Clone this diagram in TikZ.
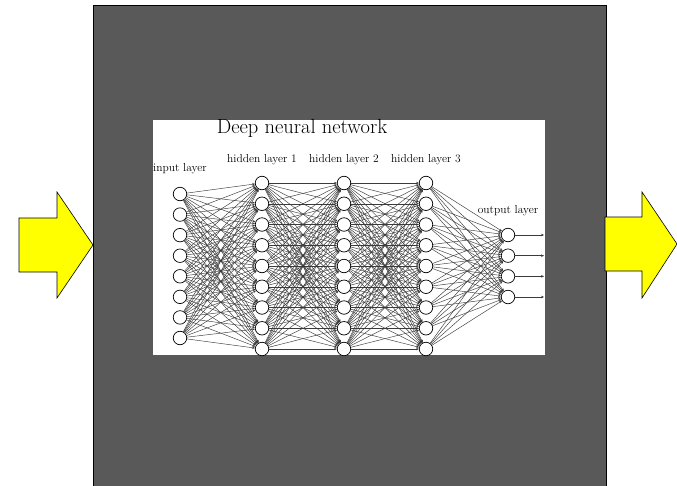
\documentclass[tikz,border=0pt]{standalone}
\usetikzlibrary{arrows.meta}
\definecolor{panel}{HTML}{595959}
\definecolor{arrowyellow}{HTML}{FFFF00}
\definecolor{linkgray}{HTML}{3A3A3A}
\begin{document}
\begin{tikzpicture}[x=1pt,y=-1pt,
  neuron/.style={circle,draw=black,fill=white,line width=0.7pt,minimum size=13.5pt,inner sep=0pt},
  conn/.style={draw=linkgray,line width=0.45pt,-{Stealth[length=2.8pt,width=2.4pt]}},
  outconn/.style={draw=linkgray,line width=0.55pt,-{Stealth[length=3pt,width=2.6pt]}},
  layerlabel/.style={inner sep=0pt,font=\fontsize{11.5}{13}\selectfont},
  bigarrow/.style={fill=arrowyellow,draw=black,line width=0.6pt,line join=miter}]
\useasboundingbox (0,0) rectangle (677,485);
\clip (0,0) rectangle (677,485);
% dark panel
\draw[fill=panel,line width=0.8pt] (93,5) rectangle (606,500);
% white inset
\node[fill=white,minimum width=392pt,minimum height=235pt,inner sep=0pt] (inset) at (349,237.5) {};
% yellow arrows
\draw[bigarrow] (19,218) -- (57,218) -- (57,192) -- (93,245) -- (57,298) -- (57,272) -- (19,272) -- cycle;
\draw[bigarrow] (605,217) -- (642,217) -- (642,192) -- (677,244) -- (642,298) -- (642,271) -- (605,271) -- cycle;
% title and labels
\node[inner sep=0pt,font=\fontsize{20.5}{22}\selectfont] (title) at (302,128) {Deep neural network};
\node[layerlabel,anchor=west] (lin) at (153,169) {input layer};
\node[layerlabel] (lh1) at (262,160) {hidden layer 1};
\node[layerlabel] (lh2) at (344,160) {hidden layer 2};
\node[layerlabel] (lh3) at (426,160) {hidden layer 3};
\node[layerlabel] (lout) at (508,211) {output layer};
% neurons
\foreach \i in {1,...,8} \node[neuron] (I\i) at (180,{194+(\i-1)*20.57}) {};
\foreach \i in {1,...,9} {
  \node[neuron] (A\i) at (262,{183+(\i-1)*20.75}) {};
  \node[neuron] (B\i) at (344,{183+(\i-1)*20.75}) {};
  \node[neuron] (C\i) at (426,{183+(\i-1)*20.75}) {};
}
\foreach \i in {1,...,4} {
  \node[neuron] (O\i) at (508,{235+(\i-1)*20.67}) {};
  \coordinate (E\i) at (544,{235+(\i-1)*20.67});
}
% connections
\foreach \i in {1,...,8} \foreach \j in {1,...,9} \draw[conn] (I\i) -- (A\j);
\foreach \i in {1,...,9} \foreach \j in {1,...,9} {
  \draw[conn] (A\i) -- (B\j);
  \draw[conn] (B\i) -- (C\j);
}
\foreach \i in {1,...,9} \foreach \j in {1,...,4} \draw[conn] (C\i) -- (O\j);
\foreach \i in {1,...,4} \draw[outconn] (O\i) -- (E\i);
\end{tikzpicture}
\end{document}
